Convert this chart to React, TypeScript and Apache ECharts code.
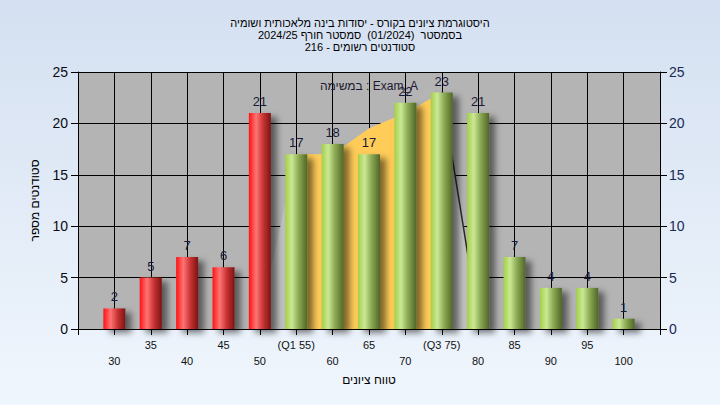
import React, { useEffect, useRef } from "react";
import * as echarts from "echarts";

// ---- data ----
const scores = [30, 35, 40, 45, 50, 55, 60, 65, 70, 75, 80, 85, 90, 95, 100];
const counts = [2, 5, 7, 6, 21, 17, 18, 17, 22, 23, 21, 7, 4, 4, 1];
const passScore = 55;
const quartileLabels: Record<number, string> = { 55: "(Q1 55)", 75: "(Q3 75)" };

// fitted curve (light area) and inter-quartile band
const curveX = [50, 55, 60, 65, 70, 75, 80];
const curveY = [1, 17, 17, 19.5, 21, 23, 1];
const iqrX = [55, 60, 65, 70, 75];
const iqrY = [17, 17, 19.5, 21, 23];
const tailX = [75, 80];
const tailY = [23, 1];

const titleLines = [
  "היסטוגרמת ציונים בקורס - יסודות בינה מלאכותית ושומיה",
  "בסמסטר  (01/2024)  סמסטר חורף 2024/25",
  "סטודנטים רשומים - 216",
];
const examLabel = "במשימה : Exam_A";
const xAxisName = "טווח ציונים";
const yAxisName = "סטודנטים מספר";

const FONT = "'Liberation Sans', Arial, sans-serif";

const redGrad = () =>
  new echarts.graphic.LinearGradient(0, 0, 1, 0, [
    { offset: 0, color: "#ff1212" },
    { offset: 0.33, color: "#ff7474" },
    { offset: 0.65, color: "#c83232" },
    { offset: 1, color: "#7a1414" },
  ]);
const greenGrad = () =>
  new echarts.graphic.LinearGradient(0, 0, 1, 0, [
    { offset: 0, color: "#a2d048" },
    { offset: 0.3, color: "#cbe894" },
    { offset: 0.62, color: "#8aa852" },
    { offset: 1, color: "#506628" },
  ]);

export default function App() {
  const ref = useRef<HTMLDivElement>(null);
  useEffect(() => {
    if (!ref.current) return;
    const chart = echarts.init(ref.current, null, { renderer: "svg" });
    const pairs = (xs: number[], ys: number[]) => xs.map((x, i) => [x, ys[i]]);
    const option: any = {
      animation: false,
      backgroundColor: new echarts.graphic.LinearGradient(0, 0, 0, 1, [
        { offset: 0, color: "#d4e0f1" },
        { offset: 1, color: "#f0f6fd" },
      ]),
      textStyle: { fontFamily: FONT },
      title: {
        text: titleLines.join("\n"),
        left: "center",
        top: 12,
        textStyle: { fontSize: 11, lineHeight: 12, fontWeight: "normal", color: "#000", fontFamily: FONT },
      },
      graphic: [
        {
          type: "text",
          x: 369,
          y: 86,
          z: 100,
          style: {
            text: examLabel,
            fill: "#201830",
            font: "12px " + FONT,
            textAlign: "center",
            textVerticalAlign: "middle",
          },
        },
      ],
      grid: { left: 78, right: 60, top: 72, bottom: 76, show: true, backgroundColor: "#b4b4b4", borderWidth: 0 },
      xAxis: {
        type: "value",
        min: 25,
        max: 105,
        interval: 5,
        axisLine: { show: true, onZero: false, lineStyle: { color: "#000", width: 1 } },
        axisTick: { show: true, length: 6, lineStyle: { color: "#000" } },
        splitLine: { show: true, lineStyle: { color: "#000", width: 1 } },
        axisLabel: {
          fontSize: 11,
          color: "#111",
          margin: 8,
          lineHeight: 16,
          fontFamily: FONT,
          formatter: (v: number) => {
            if (v < 30 || v > 100) return "";
            const t = quartileLabels[v] || String(v);
            return v % 10 === 0 ? "\n" + t : t;
          },
        },
        name: xAxisName,
        nameLocation: "middle",
        nameGap: 45,
        nameTextStyle: { fontSize: 12, color: "#000", fontFamily: FONT },
      },
      yAxis: [
        {
          type: "value",
          min: 0,
          max: 25,
          interval: 5,
          position: "left",
          axisLine: { show: true, onZero: false, lineStyle: { color: "#000" } },
          axisTick: { show: true, length: 7, lineStyle: { color: "#000" } },
          splitLine: { show: true, lineStyle: { color: "#000", width: 1 } },
          axisLabel: { fontSize: 14, color: "#0a0a14", margin: 10, fontFamily: FONT },
          name: yAxisName,
          nameLocation: "middle",
          nameRotate: 90,
          nameGap: 37,
          nameTextStyle: { fontSize: 12, color: "#000", fontFamily: FONT },
        },
        {
          type: "value",
          min: 0,
          max: 25,
          interval: 5,
          position: "right",
          axisLine: { show: true, onZero: false, lineStyle: { color: "#000" } },
          axisTick: { show: true, length: 7, lineStyle: { color: "#000" } },
          splitLine: { show: false },
          axisLabel: { fontSize: 14, color: "#1a2a55", margin: 9, fontFamily: FONT },
        },
      ],
      series: [
        {
          type: "line",
          data: pairs(curveX, curveY),
          symbol: "none",
          lineStyle: { width: 0 },
          areaStyle: { color: "#c1c1c1", opacity: 1 },
          z: 1,
          silent: true,
        },
        {
          type: "line",
          data: pairs(iqrX, iqrY),
          symbol: "none",
          lineStyle: { width: 0 },
          areaStyle: { color: "#ffcc58", opacity: 1 },
          z: 1,
          silent: true,
        },
        {
          type: "line",
          data: pairs(tailX, tailY),
          symbol: "none",
          lineStyle: { width: 1.5, color: "#2a2a2a" },
          z: 1,
          silent: true,
        },
        {
          type: "bar",
          barWidth: 22,
          z: 2,
          data: scores.map((s, i) => ({
            value: [s, counts[i]],
            itemStyle: {
              color: s < passScore ? redGrad() : greenGrad(),
              shadowBlur: 6,
              shadowOffsetX: 6,
              shadowOffsetY: 4,
              shadowColor: "rgba(0,0,0,0.5)",
            },
          })),
          label: {
            show: true,
            position: "top",
            distance: 5,
            fontSize: 13,
            color: "#1a1a38",
            fontFamily: FONT,
            formatter: (p: any) => String(p.value[1]),
          },
        },
      ],
    };
    chart.setOption(option);
    return () => chart.dispose();
  }, []);
  return <div ref={ref} style={{ position: "fixed", left: 0, top: 0, width: 720, height: 405 }} />;
}
